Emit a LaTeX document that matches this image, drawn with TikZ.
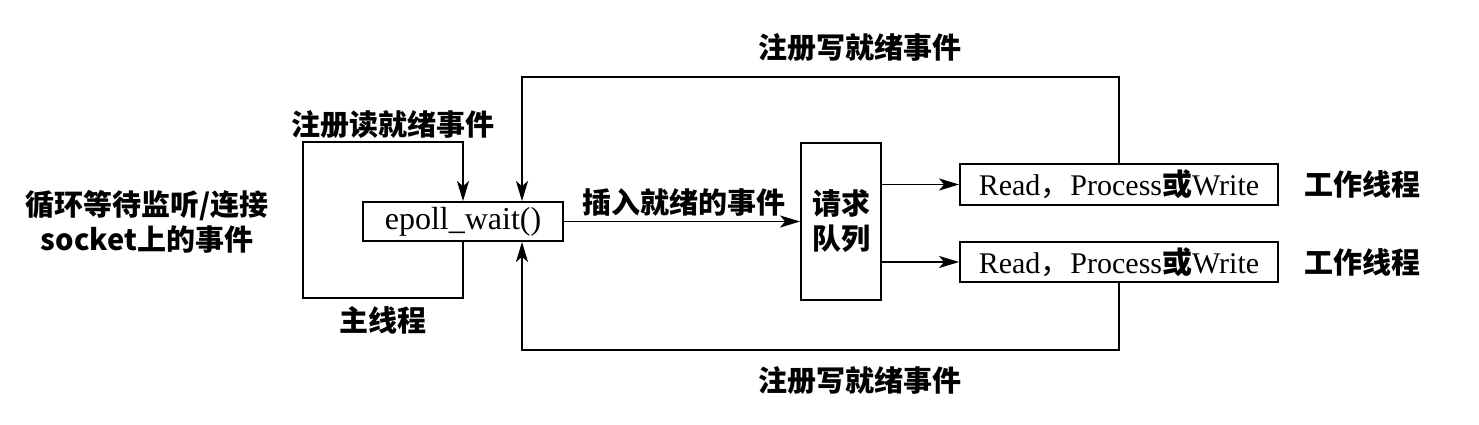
\documentclass[tikz,border=0pt]{standalone}
\usepackage{fontspec}
\setmainfont{Liberation Serif}
\newfontfamily\cjk{Noto Sans CJK SC}
\usetikzlibrary{arrows.meta,calc}
\tikzset{
  box/.style={draw, line width=0.9pt, inner sep=0pt, font=\fontsize{15}{17}\selectfont},
  lbl/.style={inner sep=0pt, font=\cjk\bfseries\fontsize{14.5}{17.5}\selectfont, align=center},
  conn/.style={line width=0.9pt},
  arr/.style={conn, -{Stealth[length=10pt,width=6pt,inset=2.5pt]}}
}
\newcommand{\rpw}{Read{\cjk ，}Process{\cjk\bfseries 或}Write}
\begin{document}
\begin{tikzpicture}[x=0.5pt,y=-0.5pt]
\useasboundingbox[fill=white] (0,0) rectangle (1479,424);
% nodes
\node[box, minimum width=100pt, minimum height=19.5pt, font=\fontsize{16}{18}\selectfont] (epoll) at (463,221.5) {epoll\_wait()};
\node[box, minimum width=40pt, minimum height=78.5pt, font=\cjk\bfseries\fontsize{14.5}{17.5}\selectfont, align=center] (queue) at (841,221.5) {请求\\队列};
\node[box, minimum width=159pt, minimum height=20.5pt] (w1) at (1119,184.5) {\rpw};
\node[box, minimum width=159pt, minimum height=20pt] (w2) at (1119,262) {\rpw};
% labels
\node[lbl] (ltop) at (860,48) {注册写就绪事件};
\node[lbl] (lbot) at (860,381) {注册写就绪事件};
\node[lbl] (lread) at (393,125) {注册读就绪事件};
\node[lbl] (lmain) at (383,320) {主线程};
\node[lbl] (lleft) at (147,222) {循环等待监听/连接\\socket上的事件};
\node[lbl] (lins) at (684,202) {插入就绪的事件};
\node[lbl] (lw1) at (1362,184) {工作线程};
\node[lbl] (lw2) at (1362,262) {工作线程};
% coordinates
\coordinate (lb) at (303,298);
\coordinate (lt) at (303,142);
\coordinate (tl) at (522,77);
\coordinate (bl) at (522,350);
% connectors
\draw[arr] (epoll.south) |- (lb) -- (lt) -| (epoll.north);
\draw[arr] (w1.north) |- (tl) -- (tl |- epoll.north);
\draw[arr] (w2.south) |- (bl) -- (bl |- epoll.south);
\draw[arr] (epoll.east) -- (queue.west);
\draw[arr] (queue.east |- w1.west) -- (w1.west);
\draw[arr] (queue.east |- w2.west) -- (w2.west);
\end{tikzpicture}
\end{document}
